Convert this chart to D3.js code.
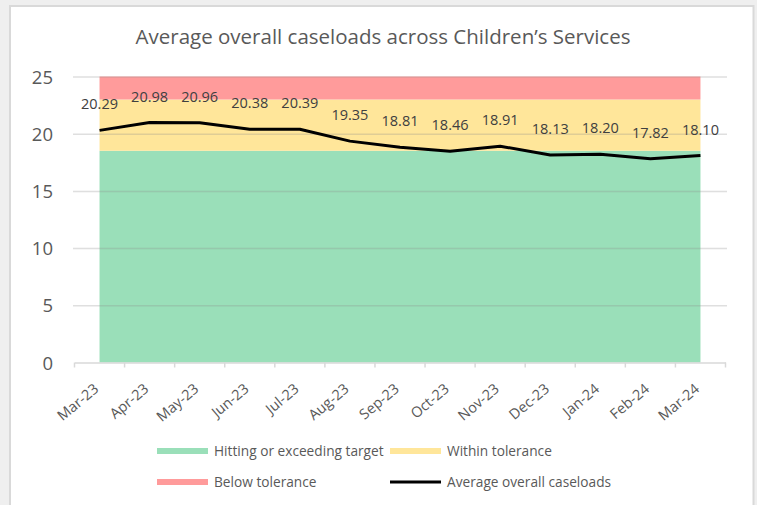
<!DOCTYPE html>
<html>
<head>
<meta charset="utf-8">
<script src="https://cdn.jsdelivr.net/npm/d3@7"></script>
<style>
  html, body { margin: 0; padding: 0; background: #efefef; }
  svg { display: block; }
  text { font-family: "Open Sans", "Noto Sans", sans-serif; }
</style>
</head>
<body>
<svg id="chart" width="757" height="505"></svg>
<script>
// Monthly categories and average caseload per worker
const months = ["Mar-23", "Apr-23", "May-23", "Jun-23", "Jul-23", "Aug-23", "Sep-23",
                "Oct-23", "Nov-23", "Dec-23", "Jan-24", "Feb-24", "Mar-24"];
const caseloads = [20.29, 20.98, 20.96, 20.38, 20.39, 19.35, 18.81,
                   18.46, 18.91, 18.13, 18.20, 17.82, 18.10];

// RAG bands (stacked): target up to 18.5, tolerance up to 23, above that below tolerance
const targetBand = [18.5, 18.5, 18.5, 18.5, 18.5, 18.5, 18.5, 18.5, 18.5, 18.5, 18.5, 18.5, 18.5];
const toleranceBand = [4.5, 4.5, 4.5, 4.5, 4.5, 4.5, 4.5, 4.5, 4.5, 4.5, 4.5, 4.5, 4.5];
const belowBand = [2, 2, 2, 2, 2, 2, 2, 2, 2, 2, 2, 2, 2];

const yTicks = [0, 5, 10, 15, 20, 25];

const svg = d3.select("#chart");

// Chart frame
svg.append("rect")
  .attr("x", 10).attr("y", 6).attr("width", 743.5).attr("height", 520)
  .attr("fill", "#ffffff").attr("stroke", "#d9d9d9").attr("stroke-width", 2);

const x = d3.scaleBand().domain(months).range([74.5, 725.5]).paddingInner(0).paddingOuter(0);
const y = d3.scaleLinear().domain([0, 25]).range([362.5, 76.5]);
const cx = m => x(m) + x.bandwidth() / 2;

// Stacked bands as areas
const stackData = months.map((m, i) => ({
  month: m, target: targetBand[i], tolerance: toleranceBand[i], below: belowBand[i]
}));
const series = d3.stack().keys(["target", "tolerance", "below"])(stackData);
const bandColours = { target: "#9adfb9", tolerance: "#ffe69a", below: "#ff9b9b" };

const area = d3.area()
  .x(d => cx(d.data.month))
  .y0(d => y(d[0]))
  .y1(d => y(d[1]));

svg.append("g").selectAll("path")
  .data(series)
  .join("path")
  .attr("d", area)
  .attr("fill", d => bandColours[d.key]);

// Gridlines drawn on top of the bands, faintly
svg.append("g")
  .attr("transform", "translate(73,0)")
  .call(d3.axisLeft(y).tickValues(yTicks.filter(t => t > 0)).tickSize(-654).tickFormat(""))
  .call(g => g.select(".domain").remove())
  .call(g => g.selectAll("line").attr("stroke", "#8c8c8c").attr("stroke-opacity", 0.28).attr("stroke-width", 1.5));

// Y tick labels
svg.append("g")
  .attr("transform", "translate(53,0)")
  .call(d3.axisLeft(y).tickValues(yTicks).tickSize(0).tickPadding(0))
  .call(g => g.select(".domain").remove())
  .call(g => g.selectAll("text").attr("fill", "#595959").attr("font-size", 18.5).attr("dy", "0.36em"));

// X axis
const xAxis = svg.append("g")
  .attr("transform", `translate(0,${y(0)})`)
  .call(d3.axisBottom(x).tickSize(0).tickPadding(0));
xAxis.select(".domain").attr("stroke", "#d9d9d9").attr("stroke-width", 1.5);
xAxis.selectAll(".tick text")
  .attr("fill", "#595959")
  .attr("font-size", 14.5)
  .attr("text-anchor", "end")
  .attr("y", 0)
  .attr("dy", 0)
  .attr("transform", "translate(0,28) rotate(-40)");
// Tick marks between categories
svg.append("g").selectAll("line")
  .data(d3.range(months.length + 1))
  .join("line")
  .attr("x1", i => 74.5 + i * x.bandwidth())
  .attr("x2", i => 74.5 + i * x.bandwidth())
  .attr("y1", y(0)).attr("y2", y(0) + 5)
  .attr("stroke", "#d9d9d9").attr("stroke-width", 1.5);

// Caseload line
const line = d3.line().x((d, i) => cx(months[i])).y(d => y(d));
svg.append("path")
  .datum(caseloads)
  .attr("d", line)
  .attr("fill", "none")
  .attr("stroke", "#000000")
  .attr("stroke-width", 3)
  .attr("stroke-linejoin", "round");

// Data labels
svg.append("g").selectAll("text")
  .data(caseloads)
  .join("text")
  .attr("x", (d, i) => cx(months[i]))
  .attr("y", d => y(d) - 26)
  .attr("text-anchor", "middle")
  .attr("font-size", 14.5)
  .attr("fill", "#404040")
  .attr("dy", "0.35em")
  .text(d => d.toFixed(2));

// Title
svg.append("text")
  .attr("x", 383).attr("y", 37)
  .attr("text-anchor", "middle")
  .attr("dy", "0.35em")
  .attr("font-size", 20.5)
  .attr("fill", "#595959")
  .text("Average overall caseloads across Children’s Services");

// Legend
const legendItems = [
  { label: "Hitting or exceeding target", colour: "#9adfb9", kind: "rect", x: 157, y: 451 },
  { label: "Within tolerance", colour: "#ffe69a", kind: "rect", x: 390, y: 451 },
  { label: "Below tolerance", colour: "#ff9b9b", kind: "rect", x: 157, y: 482 },
  { label: "Average overall caseloads", colour: "#000000", kind: "line", x: 390, y: 482 }
];
const lg = svg.append("g").selectAll("g").data(legendItems).join("g")
  .attr("transform", d => `translate(${d.x},${d.y})`);
lg.append("rect")
  .attr("x", 0).attr("width", 51)
  .attr("y", d => d.kind === "rect" ? -3 : -1.5)
  .attr("height", d => d.kind === "rect" ? 6 : 3)
  .attr("fill", d => d.colour);
lg.append("text")
  .attr("x", 57).attr("y", 0).attr("dy", "0.35em")
  .attr("font-size", 13.7).attr("fill", "#595959")
  .text(d => d.label);
</script>
</body>
</html>
